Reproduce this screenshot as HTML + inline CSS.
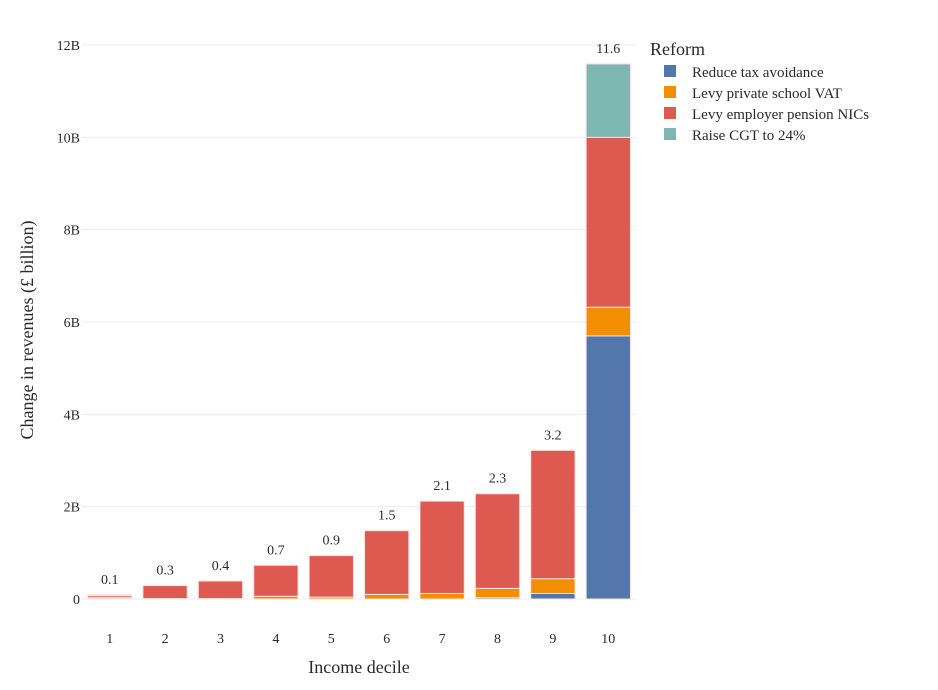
<!DOCTYPE html>
<html><head><meta charset="utf-8"><style>
body{margin:0;background:#fff;}
svg{display:block;font-family:"Liberation Serif",serif;}
</style></head><body>
<svg id="chart" width="938" height="690">
<g id="grid"></g>
<g id="bars"></g>
<g id="labels"></g>
<g id="axes"></g>
<text x="33" y="330" transform="rotate(-90 33 330)" text-anchor="middle" font-size="18" fill="#2a2a2a">Change in revenues (£ billion)</text>
<text x="359" y="673" text-anchor="middle" font-size="18" fill="#2a2a2a">Income decile</text>
<g id="legend">
<text x="650" y="55" font-size="18" fill="#2a2a2a">Reform</text>
</g>
</svg>
<script>
const categories=["1","2","3","4","5","6","7","8","9","10"];
const seriesNames=["Reduce tax avoidance","Levy private school VAT","Levy employer pension NICs","Raise CGT to 24%"];
const avoidance=[0.01,0,0,0,0,0,0,0.03,0.12,5.70];
const vat=[0.03,0.01,0.01,0.06,0.04,0.10,0.12,0.20,0.32,0.62];
const pension=[0.04,0.28,0.38,0.67,0.90,1.38,2.00,2.05,2.78,3.68];
const cgt=[0.01,0,0,0,0,0,0,0,0,1.59];
const yTicks=[0,2,4,6,8,10,12];
const yTickLabels=["0","2B","4B","6B","8B","10B","12B"];
const colors=["#5377aa","#f28e00","#de5a51","#7cb8b1"];
const NS="http://www.w3.org/2000/svg";
const x0=82,x1=636,yZero=599,yTop=45;
const y=v=>yZero-(v/12)*(yZero-yTop);
const step=(x1-x0)/categories.length;
const xc=i=>x0+step*(i+0.5);
const bw=step*0.8;
function mk(tag,attrs,parent){const e=document.createElementNS(NS,tag);for(const k in attrs)e.setAttribute(k,attrs[k]);parent.appendChild(e);return e;}
const grid=document.getElementById('grid'),axes=document.getElementById('axes');
yTicks.forEach((t,i)=>{
  const l=mk('line',{x1:x0,x2:x1,y1:y(t),y2:y(t),stroke:'#e8ecf6','stroke-width':1},grid);
  
  
  const tx=mk('text',{x:x0-2,y:y(t)+5,'text-anchor':'end','font-size':14,fill:'#2a2a2a'},axes);
  tx.textContent=yTickLabels[i];
  
  
});
const series=[avoidance,vat,pension,cgt];
const bars=document.getElementById('bars'),labels=document.getElementById('labels');
categories.forEach((c,i)=>{
  let cum=0;
  series.forEach((s,k)=>{
    const v=s[i];
    if(v>0){
      const r=mk('rect',{x:xc(i)-bw/2,y:y(cum+v),width:bw,height:y(cum)-y(cum+v),fill:colors[k],stroke:'#f6e3e1','stroke-width':1},bars);
      
      
    }
    cum+=v;
  });
  const t=mk('text',{x:xc(i),y:y(cum)-11,'text-anchor':'middle','font-size':14,fill:'#2a2a2a'},labels);
  t.textContent=cum.toFixed(1);
  
  
  const xt=mk('text',{x:xc(i),y:643,'text-anchor':'middle','font-size':14,fill:'#2a2a2a'},axes);
  xt.textContent=c;
  
  
});
const legend=document.getElementById('legend');
seriesNames.forEach((n,k)=>{
  const g=mk('g',{},legend);
  
  
  mk('rect',{x:664,y:65+k*21,width:12,height:12,fill:colors[k]},g);
  const t=mk('text',{x:692,y:77+k*21,'font-size':15,fill:'#2a2a2a'},g);
  t.textContent=n;
});
</script>
</body></html>
